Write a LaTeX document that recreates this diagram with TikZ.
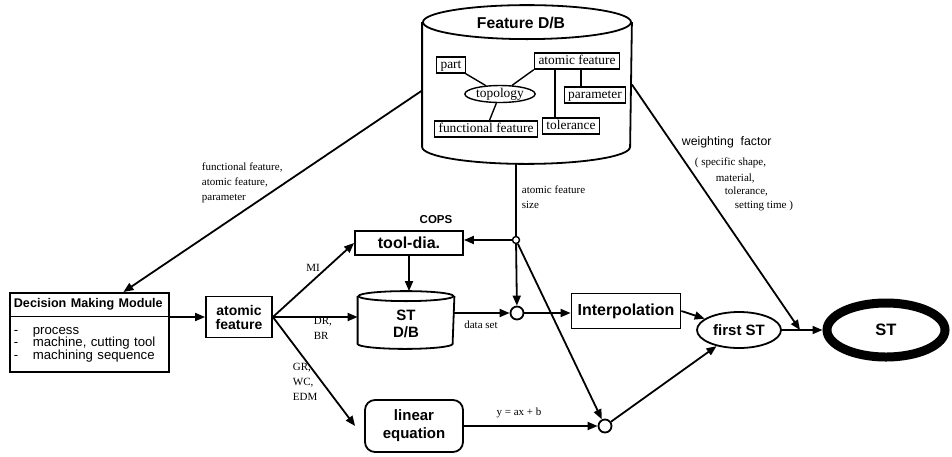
\documentclass[tikz,border=0pt]{standalone}
\usepackage{fontspec}
\setmainfont{Liberation Serif}
\setsansfont{Liberation Sans}
\usetikzlibrary{arrows.meta,shapes.geometric,shapes.multipart}

\begin{document}
\begin{tikzpicture}[x=1pt,y=-1pt,line width=1.8pt,
  >={Triangle[length=10pt,width=8pt]},
  box/.style={draw, align=center, inner sep=0pt, font=\sffamily\bfseries\fontsize{15}{17}\selectfont},
  inbox/.style={draw, line width=1.4pt, inner xsep=4pt, inner ysep=2pt, text height=9pt, text depth=3pt, font=\fontsize{13.4}{14}\selectfont},
  lbl/.style={align=left, inner sep=0pt, font=\fontsize{11}{15}\selectfont},
  dot/.style={circle, draw, inner sep=0pt, minimum size=13pt}]

\useasboundingbox (0,0) rectangle (952,456);

\node[minimum width=208pt, minimum height=157pt, inner sep=0pt] (fdb) at (527,84.5) {};
\draw ([yshift=-17pt]fdb.north) ellipse [x radius=104pt, y radius=17pt];
\draw ([yshift=-17pt]fdb.north west) -- ([yshift=17pt]fdb.south west) arc [start angle=180, end angle=360, x radius=104pt, y radius=17pt] -- ([yshift=-17pt]fdb.north east);
\node[font=\sffamily\bfseries\fontsize{15.7}{17}\selectfont] (fdbt) at (521,23) {Feature D/B};

\node[inbox] (part) at (451,65) {part};
\node[inbox, ellipse, inner xsep=1pt, inner ysep=0pt] (topo) at (500,94) {topology};
\node[inbox] (afi) at (577,61) {atomic feature};
\node[inbox] (par) at (595,95) {parameter};
\node[inbox] (func) at (486,129) {functional feature};
\node[inbox] (tol) at (571,126) {tolerance};
\draw[line width=1.4pt] (part) -- (topo);
\draw[line width=1.4pt] (topo) -- (afi.south west);
\draw[line width=1.4pt] (topo) -- (func);
\draw[line width=1.4pt] ([xshift=-16pt]tol.north) -- ([xshift=-16pt]tol.north |- afi.south);
\draw[line width=1.4pt] ([xshift=-14pt]par.north) -- ([xshift=-14pt]par.north |- afi.south);

\node[draw, rectangle split, rectangle split parts=2, anchor=north west, text width=151pt, align=left, inner xsep=4pt, inner ysep=5pt, font=\sffamily\fontsize{13.2}{12.5}\selectfont] (dmm) at (9,292)
  {\fontsize{12.6}{13}\selectfont\textbf{Decision Making Module}\nodepart{two}\rule{0pt}{12pt}\makebox[19pt][l]{-}process\\\makebox[19pt][l]{-}machine, cutting tool\\\makebox[19pt][l]{-}machining sequence\rule[-7pt]{0pt}{7pt}};
\node[box, minimum width=66pt, minimum height=41pt, font=\sffamily\bfseries\fontsize{14}{14}\selectfont] (af) at (239,317) {atomic\\feature};
\node[box, minimum width=108pt, minimum height=24pt, font=\sffamily\bfseries\fontsize{16}{17}\selectfont] (tool) at (409,243) {tool-dia.};
\node[font=\sffamily\bfseries\fontsize{11.5}{12}\selectfont] (cops) at (436,220) {COPS};

\node[minimum width=95pt, minimum height=56pt, inner sep=0pt] (stdb) at (406,320) {};
\node[align=center, font=\sffamily\bfseries\fontsize{15}{17}\selectfont] (stdbt) at (406,324) {ST\\D/B};
\draw ([yshift=-5pt]stdb.north) ellipse [x radius=47.5pt, y radius=5pt];
\draw ([yshift=-5pt]stdb.north west) -- ([yshift=5pt]stdb.south west) arc [start angle=180, end angle=360, x radius=47.5pt, y radius=5pt] -- ([yshift=-5pt]stdb.north east);

\node[box, rounded corners=10pt, minimum width=98pt, minimum height=52pt, font=\sffamily\bfseries\fontsize{15}{18}\selectfont] (lineq) at (414,426) {linear\\equation};
\node[circle, draw, inner sep=0pt, minimum size=7pt, line width=1.4pt] (j1) at (516,240) {};
\node[dot] (c2) at (517,313) {};
\node[dot] (c3) at (605,426) {};
\node[box, minimum width=109pt, minimum height=35pt, font=\sffamily\bfseries\fontsize{16}{17}\selectfont] (interp) at (626,311) {Interpolation};
\node[box, ellipse, minimum width=84pt, minimum height=36pt] (first) at (739,330) {first ST};
\node[box, ellipse, line width=9pt, minimum width=118pt, minimum height=54pt, font=\sffamily\bfseries\fontsize{16.5}{17}\selectfont] (st) at (886,330) {ST};
\coordinate (wf) at (800,330);

\node[lbl, anchor=north west] (fflbl) at (201,162) {functional feature,\\atomic feature,\\parameter};
\node[lbl, anchor=north west] (aslbl) at (521,185) {atomic feature\\size};
\node[lbl] (mil) at (313,268) {MI};
\node[lbl, anchor=north west] (drlbl) at (313,316) {DR,\\BR};
\node[lbl, anchor=north west] (grlbl) at (292,362) {GR,\\WC,\\EDM};
\node[lbl] (dslbl) at (481,325) {data set};
\node[lbl] (eqlbl) at (519,413) {y = ax + b};
\node[anchor=west, inner sep=0pt, font=\sffamily\fontsize{12.3}{13}\selectfont] (wflbl) at (681,142) {weighting\ \ factor};
\node[lbl, anchor=west] (wf1) at (694,163) {( specific shape,};
\node[lbl, anchor=west] (wf2) at (715,179) {material,};
\node[lbl, anchor=west] (wf3) at (724,192) {tolerance,};
\node[lbl, anchor=west] (wf4) at (734,206) {setting time )};

\draw[->] ([yshift=-6pt]fdb.west) -- ([xshift=34pt]dmm.north);
\draw (fdb.south -| j1) -- (j1);
\draw[->] (j1) -- (j1 -| tool.east);
\draw[->] (j1) -- (c2);
\draw[->] (j1) -- (c3);
\draw[->] (dmm.east |- af) -- (af);
\draw[->] (af.east) -- (tool.west);
\draw[->] (af.east) -- (af.east -| stdb.west);
\draw[->] (af.east) -- ([xshift=-9pt]lineq.west);
\draw[->] (tool.south) -- (tool.south |- stdb.north);
\draw[->] (stdb.east |- c2) -- (c2);
\draw[->] (c2) -- (c2 -| interp.west);
\draw[->] (interp.east) -- (first);
\draw[->] (c3) -- (first);
\draw[->] (lineq.east) -- (c3);
\draw[->] (first) -- (st);
\draw[->] (fdb.east) -- (wf);
\end{tikzpicture}
\end{document}
